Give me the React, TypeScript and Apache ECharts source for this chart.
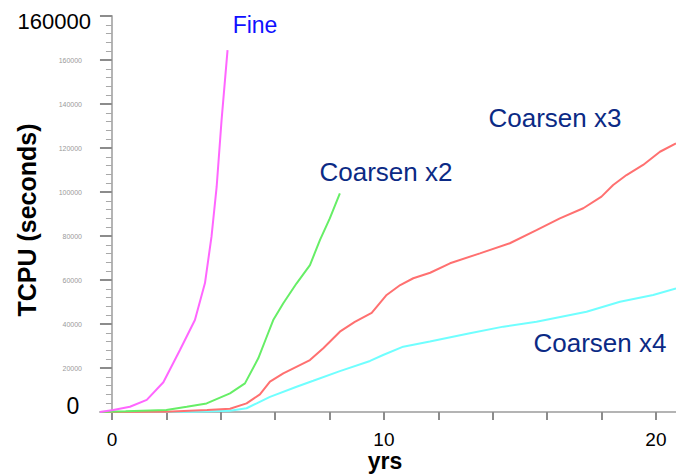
import React, { useEffect, useRef } from "react";
import * as echarts from "echarts";

const fineData: [number, number][] = [
  [-0.44, 0], [0.05, 900], [0.66, 2400], [1.28, 5500], [1.89, 13500], [2.5, 28200],
  [3.05, 41800], [3.42, 58600], [3.66, 79700], [3.85, 102400], [4.03, 132700], [4.25, 164500],
];
const coarsen2Data: [number, number][] = [
  [-0.44, 0], [0.5, 300], [2.0, 900], [2.75, 2400], [3.48, 3900], [4.34, 8500], [4.89, 13000],
  [5.38, 24400], [5.69, 34200], [5.93, 41800], [6.3, 49400], [6.79, 58500], [7.28, 66800],
  [7.65, 78200], [8.01, 88000], [8.38, 99400],
];
const coarsen3Data: [number, number][] = [
  [-0.44, 0], [2, 100], [3.5, 900], [4.34, 1500], [4.95, 3900], [5.44, 8000], [5.81, 13800],
  [6.3, 17600], [7.28, 23600], [7.77, 29000], [8.38, 36500], [8.93, 41000], [9.55, 45100],
  [10.1, 53200], [10.6, 57700], [11.08, 60800], [11.7, 63300], [12.43, 67600], [13.53, 72100],
  [14.63, 76700], [15.61, 82700], [16.47, 88000], [17.33, 92600], [18.0, 97900], [18.43, 103200],
  [18.92, 107700], [19.53, 112300], [20.15, 118300], [20.74, 122100],
];
const coarsen4Data: [number, number][] = [
  [-0.44, 0], [3, 100], [4.34, 600], [4.95, 1700], [5.32, 3900], [5.81, 6900], [6.79, 11500],
  [7.4, 14200], [8.38, 18600], [9.49, 23200], [9.97, 25900], [10.71, 29700], [11.69, 32000],
  [13.16, 35800], [14.39, 38800], [15.61, 41000], [17.45, 45600], [18.68, 50100], [19.9, 53200],
  [20.74, 56200],
];

const xTickValues = [0, 2, 4, 6, 8, 10, 12, 14, 16, 18, 20];
const xLabelValues = [0, 10, 20];
const yLabelValues = [20000, 40000, 60000, 80000, 100000, 120000, 140000, 160000];

export default function App() {
  const ref = useRef<HTMLDivElement>(null);
  useEffect(() => {
    document.body.style.margin = "0";
    if (!ref.current) return;
    const chart = echarts.init(ref.current, null, { renderer: "svg" });
    const lineSeries = (name: string, data: [number, number][], color: string) => ({
      name,
      type: "line",
      data,
      showSymbol: false,
      symbol: "none",
      lineStyle: { color, width: 2 },
      z: 3,
    });
    chart.setOption({
      animation: false,
      backgroundColor: "#ffffff",
      grid: { left: 100, right: 0, top: 16, bottom: 62, containLabel: false },
      xAxis: {
        type: "value",
        min: -0.44,
        max: 20.74,
        axisLine: { show: true, lineStyle: { color: "#b4b4b4", width: 2 } },
        axisTick: {
          show: true,
          customValues: xTickValues,
          length: 8,
          lineStyle: { color: "#8c8c8c", width: 2 },
        },
        axisLabel: {
          customValues: xLabelValues,
          fontSize: 19,
          color: "#000",
          fontFamily: "Liberation Sans",
          margin: 18,
        },
        splitLine: { show: false },
      },
      yAxis: {
        type: "value",
        min: 0,
        max: 180000,
        interval: 20000,
        axisLine: { show: true, lineStyle: { color: "#b4b4b4", width: 2 } },
        axisTick: { show: true, length: 12, lineStyle: { color: "#8c8c8c", width: 2 } },
        minorTick: { show: true, splitNumber: 5, length: 6, lineStyle: { color: "#a8a8a8", width: 1 } },
        axisLabel: {
          customValues: yLabelValues,
          formatter: (v: number) => String(v),
          fontSize: 7,
          color: "#9a9a9a",
          fontFamily: "Liberation Sans",
          margin: 18,
        },
        splitLine: { show: false },
        minorSplitLine: { show: false },
      },
      series: [
        lineSeries("Coarsen x4", coarsen4Data, "#70ffff"),
        lineSeries("Coarsen x3", coarsen3Data, "#ff7070"),
        lineSeries("Coarsen x2", coarsen2Data, "#66ee66"),
        lineSeries("Fine", fineData, "#ff66ff"),
      ],
      graphic: [
        {
          type: "text", x: 91, y: 21,
          style: { text: "160000", fill: "#000", font: "22px 'Liberation Sans'", align: "right", verticalAlign: "middle" },
        },
        {
          type: "text", x: 73, y: 406,
          style: { text: "0", fill: "#000", font: "23px 'Liberation Sans'", align: "center", verticalAlign: "middle" },
        },
        {
          type: "text", x: 385, y: 461,
          style: { text: "yrs", fill: "#000", font: "bold 23px 'Liberation Sans'", align: "center", verticalAlign: "middle" },
        },
        {
          type: "text", x: 27, y: 220, rotation: Math.PI / 2,
          style: { text: "TCPU (seconds)", fill: "#000", font: "bold 25px 'Liberation Sans'", align: "center", verticalAlign: "middle" },
        },
        {
          type: "text", x: 255, y: 25,
          style: { text: "Fine", fill: "#1010ff", font: "23px 'Liberation Sans'", align: "center", verticalAlign: "middle" },
        },
        {
          type: "text", x: 386, y: 172,
          style: { text: "Coarsen x2", fill: "#0b2a85", font: "26px 'Liberation Sans'", align: "center", verticalAlign: "middle" },
        },
        {
          type: "text", x: 555, y: 118,
          style: { text: "Coarsen x3", fill: "#0b2a85", font: "26px 'Liberation Sans'", align: "center", verticalAlign: "middle" },
        },
        {
          type: "text", x: 600, y: 343,
          style: { text: "Coarsen x4", fill: "#0b2a85", font: "26px 'Liberation Sans'", align: "center", verticalAlign: "middle" },
        },
      ],
    });
    return () => chart.dispose();
  }, []);
  return <div ref={ref} style={{ width: 676, height: 474 }} />;
}
